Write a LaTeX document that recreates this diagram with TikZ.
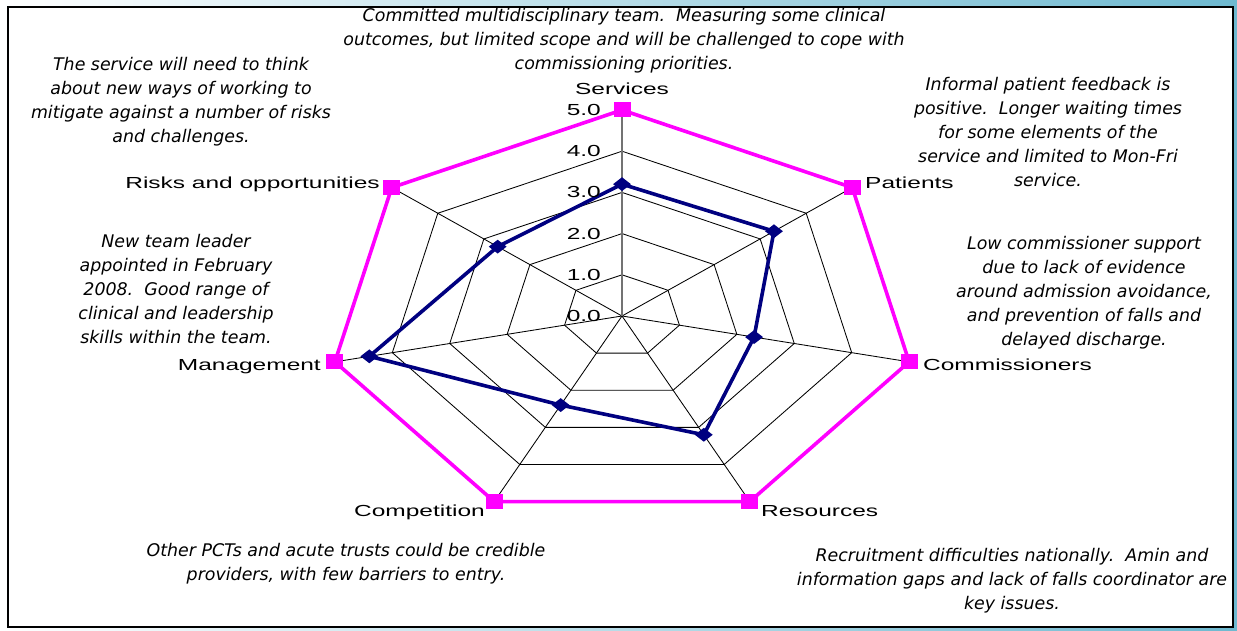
\documentclass[tikz,border=0pt]{standalone}
\usepackage{fontspec}
\usepackage{graphicx}
\newfontfamily\notefont{DejaVu Sans}
\newfontfamily\labfont{Liberation Sans}
\usetikzlibrary{shapes.geometric}
\definecolor{pinkline}{RGB}{255,0,255}
\definecolor{navyline}{RGB}{0,0,128}
\definecolor{bgblue}{RGB}{110,185,208}
\tikzset{
  note/.style={font=\notefont\itshape\fontsize{17.4}{24}\selectfont, align=center, inner sep=0pt, anchor=north},
  axlab/.style={font=\labfont\fontsize{16}{19}\selectfont, inner sep=0pt},
  scalelab/.style={font=\labfont\fontsize{16}{19}\selectfont, inner sep=0pt, anchor=east},
  gridline/.style={black, line width=0.85pt},
  mainaxis/.style={black!55, line width=1.3pt},
  refline/.style={pinkline, line width=3.6pt, line join=miter},
  dataline/.style={navyline, line width=3.6pt, line join=round},
  refmark/.style={rectangle, fill=pinkline, minimum width=17pt, minimum height=15pt, inner sep=0pt},
  datamark/.style={diamond, fill=navyline, minimum width=18pt, minimum height=14pt, inner sep=0pt},
}
\newcommand{\wide}[1]{\scalebox{1.53}[1]{#1}}
\begin{document}
\begin{tikzpicture}[x=1pt,y=-1pt]
\useasboundingbox (0,0) rectangle (1237,631);
\shade[left color=white, middle color=white, right color=bgblue] (0,0) rectangle (1237,631);
\draw[line width=1.3pt, fill=white] (8,7) rectangle (1233,627);

% chart
\begin{scope}[shift={(622,316)}, x=58.9pt, y=41.2pt]
  \foreach \r in {1,...,5}
    \draw[gridline] (90:\r) \foreach \k in {1,...,6} { -- ({90-\k*360/7}:\r) } -- cycle;
  \foreach \k in {1,...,6}
    \draw[gridline] (0,0) -- ({90-\k*360/7}:5);
  \draw[mainaxis] (0,0) -- (90:5);
  \foreach \k in {0,...,6}
    \coordinate (R\k) at ({90-\k*360/7}:5);
  \foreach \k/\v in {0/3.2, 1/3.3, 2/2.3, 3/3.2, 4/2.4, 5/4.4, 6/2.7}
    \coordinate (D\k) at ({90-\k*360/7}:\v);
  \draw[refline] (R0) -- (R1) -- (R2) -- (R3) -- (R4) -- (R5) -- (R6) -- cycle;
  \draw[dataline] (D0) -- (D1) -- (D2) -- (D3) -- (D4) -- (D5) -- (D6) -- cycle;
  \foreach \k in {0,...,6} {
    \node[refmark] (RM\k) at (R\k) {};
    \node[datamark] (DM\k) at (D\k) {};
  }
\end{scope}

% scale labels
\foreach \v in {0,...,5}
  \node[scalelab] (S\v) at (601,{316-\v*41.2}) {\wide{\v.0}};

% axis labels
\node[axlab, anchor=base] (Lserv) at (622,95) {\wide{Services}};
\node[axlab, anchor=base west] (Lpat) at (865,189) {\wide{Patients}};
\node[axlab, anchor=base west] (Lcom) at (923,370) {\wide{Commissioners}};
\node[axlab, anchor=base west] (Lres) at (761,516) {\wide{Resources}};
\node[axlab, anchor=base east] (Lcmp) at (485,516) {\wide{Competition}};
\node[axlab, anchor=base east] (Lman) at (321,370) {\wide{Management}};
\node[axlab, anchor=base east] (Lrisk) at (380,189) {\wide{Risks and opportunities}};

% notes
\node[note] (Nserv) at (624,8) {Committed multidisciplinary team.\ \ Measuring some clinical\\outcomes, but limited scope and will be challenged to cope with\\commissioning priorities.};
\node[note] (Nrisk) at (181,57) {The service will need to think\\about new ways of working to\\mitigate against a number of risks\\and challenges.};
\node[note] (Npat) at (1048,77) {Informal patient feedback is\\positive.\ \ Longer waiting times\\for some elements of the\\service and limited to Mon-Fri\\service.};
\node[note] (Nman) at (176,234) {New team leader\\appointed in February\\2008.\ \ Good range of\\clinical and leadership\\skills within the team.};
\node[note] (Ncom) at (1084,236) {Low commissioner support\\due to lack of evidence\\around admission avoidance,\\and prevention of falls and\\delayed discharge.};
\node[note] (Ncmp) at (346,543) {Other PCTs and acute trusts could be credible\\providers, with few barriers to entry.};
\node[note] (Nres) at (1012,548) {Recruitment difficulties nationally.\ \ Amin and\\information gaps and lack of falls coordinator are\\key issues.};
\end{tikzpicture}
\end{document}
